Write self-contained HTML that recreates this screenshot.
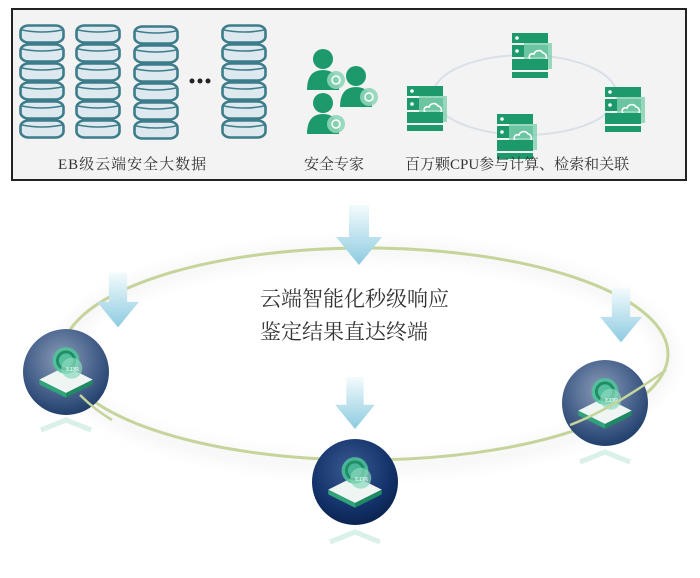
<!DOCTYPE html>
<html><head><meta charset="utf-8"><style>
html,body{margin:0;padding:0;background:#fff;}
svg{display:block}
text{font-family:"Liberation Serif","Noto Serif CJK SC",serif;}
</style></head><body>
<svg width="700" height="578" viewBox="0 0 700 578" xmlns="http://www.w3.org/2000/svg">
<defs>
<symbol id="disk" viewBox="0 0 46 20"><rect x="1.5" y="1.5" width="43" height="17" rx="8" ry="6" fill="#dde9ee" stroke="#3d7c8a" stroke-width="2.6"/><path d="M3 6 Q23 10 43 6" fill="none" stroke="#3d7c8a" stroke-width="1.6"/></symbol>
<symbol id="srv" viewBox="0 0 40 46">
<rect x="0" y="0" width="36" height="10" fill="#1d9a6c"/><circle cx="5" cy="5" r="1.8" fill="#fff"/>
<rect x="0" y="12" width="36" height="12" fill="#1d9a6c"/><circle cx="5" cy="18" r="1.8" fill="#fff"/>
<rect x="12" y="10" width="28" height="26" fill="#7fd0ae" opacity="0.8"/>
<path d="M19 27 h14 a4 4 0 0 0 -2 -7 a5 5 0 0 0 -9 1 a3 3 0 0 0 -3 6z" fill="none" stroke="#fff" stroke-width="1.6"/>
<rect x="0" y="26" width="36" height="11" fill="#1d9a6c"/><rect x="0" y="39" width="36" height="6" fill="#1d9a6c"/>
</symbol>
<symbol id="person" viewBox="0 0 40 46"><circle cx="18" cy="11" r="10" fill="#1d9a6c"/><path d="M2 42 q0 -20 16 -20 q16 0 16 20z" fill="#1d9a6c"/><circle cx="31" cy="32" r="9" fill="#8fd6b8" opacity="0.9"/><circle cx="31" cy="32" r="4" fill="none" stroke="#fff" stroke-width="1.5"/></symbol>
<linearGradient id="arr" x1="0" y1="0" x2="0" y2="1"><stop offset="0" stop-color="#f4fbfd"/><stop offset="1" stop-color="#8ccbe0"/></linearGradient>
<symbol id="arrow" viewBox="0 0 46 60"><path d="M13 0 h20 v32 h13 L23 60 L0 32 h13z" fill="url(#arr)"/></symbol>
<radialGradient id="glb" cx="0.45" cy="0.35" r="0.65"><stop offset="0" stop-color="#8a9cb8"/><stop offset="0.7" stop-color="#3f5a85"/><stop offset="1" stop-color="#21406c"/></radialGradient>
<radialGradient id="glb2" cx="0.45" cy="0.35" r="0.65"><stop offset="0" stop-color="#3a5a92"/><stop offset="0.7" stop-color="#14336b"/><stop offset="1" stop-color="#0b2450"/></radialGradient>
<symbol id="edr" viewBox="-45 -45 90 90">
<path d="M-28 8 L0 -6 L28 8 L0 22z" fill="#eef5f2"/><path d="M-28 8 L0 22 L0 27 L-28 13z" fill="#2fa37a"/><path d="M28 8 L0 22 L0 27 L28 13z" fill="#1d8a62"/>
<circle cx="0" cy="-12" r="14" fill="#4ec79a" opacity="0.85"/><circle cx="0" cy="-12" r="9" fill="none" stroke="#1f8d65" stroke-width="3"/>
<circle cx="6" cy="-4" r="11" fill="#8ad9bc" opacity="0.7"/><text x="7" y="-1" font-size="7" fill="#fff" text-anchor="middle" font-family="Liberation Sans,sans-serif">EDR</text>
</symbol>
<filter id="sh" x="-20%" y="-20%" width="140%" height="140%"><feGaussianBlur stdDeviation="8"/></filter>
</defs>

<rect x="12" y="9" width="674" height="171" fill="#f3f3f3" stroke="#222" stroke-width="2"/>
<g>
<use href="#disk" x="19" y="24" width="46" height="20"/><use href="#disk" x="19" y="43" width="46" height="20"/><use href="#disk" x="19" y="62" width="46" height="20"/><use href="#disk" x="19" y="81" width="46" height="20"/><use href="#disk" x="19" y="100" width="46" height="20"/><use href="#disk" x="19" y="119" width="46" height="20"/>
<use href="#disk" x="75" y="24" width="46" height="20"/><use href="#disk" x="75" y="43" width="46" height="20"/><use href="#disk" x="75" y="62" width="46" height="20"/><use href="#disk" x="75" y="81" width="46" height="20"/><use href="#disk" x="75" y="100" width="46" height="20"/><use href="#disk" x="75" y="119" width="46" height="20"/>
<use href="#disk" x="133" y="25" width="46" height="20"/><use href="#disk" x="133" y="44" width="46" height="20"/><use href="#disk" x="133" y="63" width="46" height="20"/><use href="#disk" x="133" y="82" width="46" height="20"/><use href="#disk" x="133" y="101" width="46" height="20"/><use href="#disk" x="133" y="120" width="46" height="20"/>
<use href="#disk" x="221" y="24" width="46" height="20"/><use href="#disk" x="221" y="43" width="46" height="20"/><use href="#disk" x="221" y="62" width="46" height="20"/><use href="#disk" x="221" y="81" width="46" height="20"/><use href="#disk" x="221" y="100" width="46" height="20"/><use href="#disk" x="221" y="119" width="46" height="20"/>
<circle cx="192" cy="81" r="2.5" fill="#222"/><circle cx="200" cy="81" r="2.5" fill="#222"/><circle cx="208" cy="81" r="2.5" fill="#222"/>
</g>
<use href="#person" x="305" y="48" width="40" height="46"/>
<use href="#person" x="338" y="65" width="40" height="46"/>
<use href="#person" x="305" y="92" width="40" height="46"/>
<ellipse cx="525" cy="95" rx="92" ry="40" fill="none" stroke="#c8d4e2" stroke-width="2" opacity="0.6"/>
<use href="#srv" x="512" y="33" width="40" height="46"/>
<use href="#srv" x="407" y="86" width="40" height="46"/>
<use href="#srv" x="605" y="87" width="40" height="46"/>
<use href="#srv" x="497" y="114" width="40" height="46"/>
<g font-size="15" fill="#333">
<text x="58" y="169" letter-spacing="1">EB级云端安全大数据</text>
<text x="304" y="169">安全专家</text>
<text x="405" y="169">百万颗CPU参与计算、检索和关联</text>
</g>

<ellipse cx="365" cy="358" rx="303" ry="108" fill="none" stroke="#bbb" stroke-width="6" opacity="0.35" filter="url(#sh)"/>
<ellipse cx="365" cy="354" rx="303" ry="106" fill="none" stroke="#c4d49a" stroke-width="3"/>
<g font-size="21" fill="#333">
<text x="260" y="306">云端智能化秒级响应</text>
<text x="260" y="339">鉴定结果直达终端</text>
</g>

<use href="#arrow" x="336" y="205" width="46" height="60"/>
<use href="#arrow" x="97" y="270" width="42" height="60"/>
<use href="#arrow" x="600" y="284" width="42" height="62"/>
<use href="#arrow" x="334" y="377" width="42" height="52"/>

<g>
<circle cx="66" cy="372" r="43" fill="url(#glb)"/>
<use href="#edr" x="23" y="329" width="86" height="86"/>
<path d="M41 430 L66 420 L91 430" fill="none" stroke="#bfe8d8" stroke-width="5" opacity="0.6"/>
</g>
<path d="M80 395 Q95 410 112 420" fill="none" stroke="#c4d49a" stroke-width="2.5"/>
<g>
<circle cx="355" cy="482" r="43" fill="url(#glb2)"/>
<use href="#edr" x="312" y="439" width="86" height="86"/>
<path d="M330 542 L355 532 L380 542" fill="none" stroke="#bfe8d8" stroke-width="5" opacity="0.6"/>
</g>
<g>
<circle cx="605" cy="403" r="43" fill="url(#glb)"/>
<use href="#edr" x="562" y="360" width="86" height="86"/>
<path d="M580 462 L605 452 L630 462" fill="none" stroke="#bfe8d8" stroke-width="5" opacity="0.6"/>
</g>
<path d="M570 425 Q610 410 666 370" fill="none" stroke="#c4d49a" stroke-width="2.5"/>
</svg>
</body></html>
